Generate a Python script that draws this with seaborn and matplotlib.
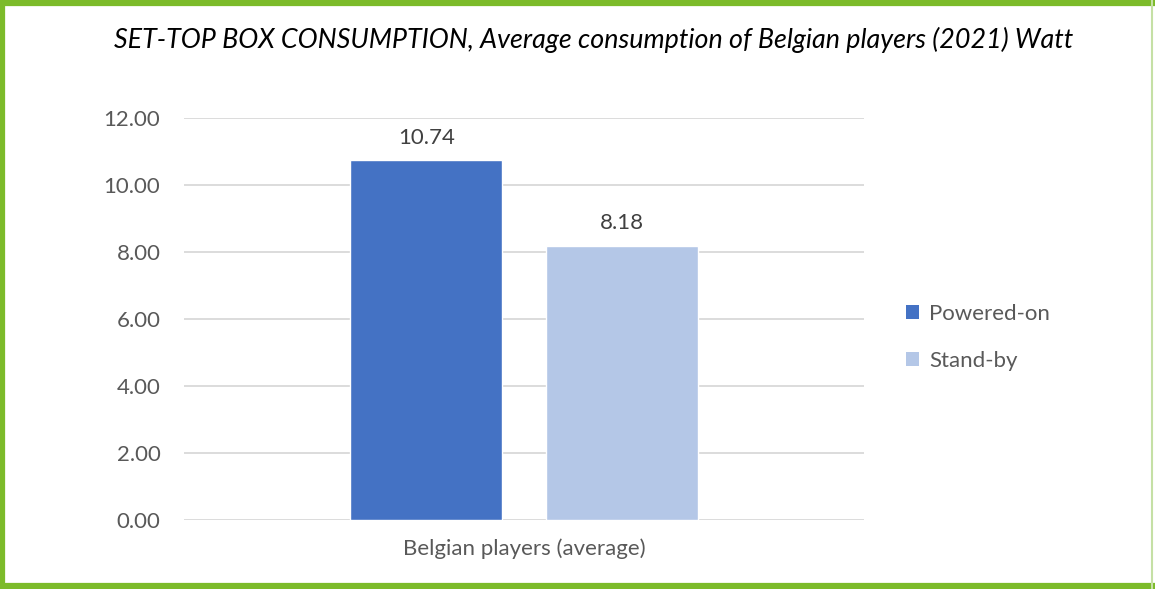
import matplotlib
matplotlib.use("Agg")
import matplotlib.pyplot as plt
import seaborn as sns
import pandas as pd
from matplotlib.lines import Line2D
from matplotlib.patches import Patch

categories = ["Belgian players (average)"]
series = ["Powered-on", "Stand-by"]
values_powered = [10.74]
values_standby = [8.18]
yticks = [0, 2, 4, 6, 8, 10, 12]
title = "SET-TOP BOX CONSUMPTION, Average consumption of Belgian players (2021) Watt"
colors = ["#4472C4", "#B4C7E7"]

df = pd.DataFrame({
    "category": categories * 2,
    "series": [series[0]] * len(categories) + [series[1]] * len(categories),
    "value": values_powered + values_standby,
})

sns.set_theme(style="white")
plt.rcParams["font.family"] = ["Lato", "DejaVu Sans"]

fig = plt.figure(figsize=(11.55, 5.89), dpi=100)
ax = fig.add_axes([0.1593, 0.1171, 0.748 - 0.1593, 0.7997 - 0.1171])

sns.barplot(data=df, x="category", y="value", hue="series", palette=colors,
            width=0.574, gap=0.221, ax=ax, legend=False, saturation=1, errorbar=None)

fs = 16
ax.set_xlim(-0.5, 0.5)
ax.set_ylim(0, 12)
ax.set_yticks(yticks)
ax.set_yticklabels([f"{v:.2f}" for v in yticks], color="#595959", fontsize=fs)
ax.tick_params(axis="y", length=0, pad=17)
ax.tick_params(axis="x", length=0, pad=13, labelsize=fs, labelcolor="#595959")
ax.set_xlabel("")
ax.set_ylabel("")
ax.yaxis.grid(True, color="#D9D9D9", linewidth=1.3)
ax.set_axisbelow(True)
for s in ax.spines.values():
    s.set_visible(False)

for cont in ax.containers:
    ax.bar_label(cont, labels=[f"{v:.2f}" for v in cont.datavalues], padding=9,
                 color="#404040", fontsize=fs)

handles = [Patch(facecolor=c, edgecolor="none") for c in colors]
fig.legend(handles, series, loc="center left", bbox_to_anchor=(0.767, 0.427),
           frameon=False, fontsize=fs, labelcolor="#595959", handlelength=0.6,
           handleheight=0.6, handletextpad=0.45, labelspacing=1.2)

fig.text(0.514, 0.932, title, ha="center", va="center", fontsize=19.4,
         style="italic", color="black")

green = "#7CBB2A"
fig.add_artist(Line2D([0.002, 0.002], [0, 1], transform=fig.transFigure, color=green, lw=4.5))
fig.add_artist(Line2D([0, 1], [0.995, 0.995], transform=fig.transFigure, color=green, lw=4.5))
fig.add_artist(Line2D([0, 1], [0.005, 0.005], transform=fig.transFigure, color=green, lw=4.5))
fig.add_artist(Line2D([0.9975, 0.9975], [0, 1], transform=fig.transFigure, color="#C5E0A5", lw=1.5))

fig.savefig("out.png", dpi=100)
